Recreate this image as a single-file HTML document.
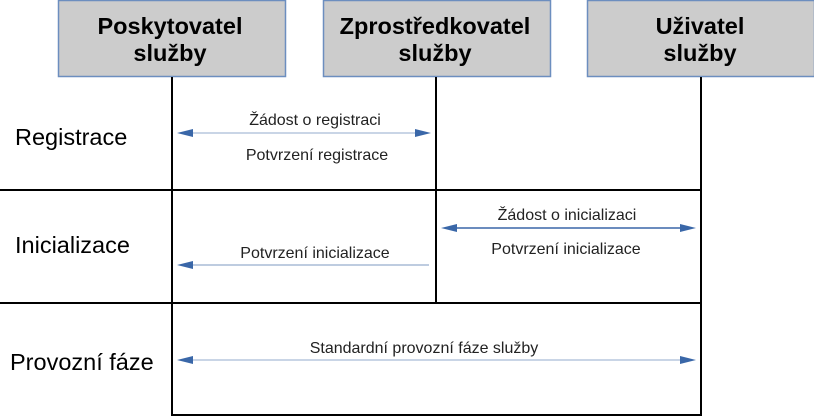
<!DOCTYPE html>
<html><head><meta charset="utf-8"><style>
body{margin:0;background:#fff}
svg{display:block}
text{font-family:"Liberation Sans",sans-serif}
</style></head><body>
<svg width="814" height="417" viewBox="0 0 814 417">
<g fill="#cccccc" stroke="#6c8ebf" stroke-width="1.5">
<rect x="58.5" y="0.5" width="227" height="76"/>
<rect x="323.5" y="0.5" width="227" height="76"/>
<rect x="587.5" y="0.5" width="227" height="76"/>
</g>
<g font-weight="bold" font-size="23.5" text-anchor="middle" fill="#000">
<text x="170" y="34">Poskytovatel</text><text x="170" y="61">služby</text>
<text x="435" y="34">Zprostředkovatel</text><text x="435" y="61">služby</text>
<text x="700" y="34">Uživatel</text><text x="700" y="61">služby</text>
</g>
<g stroke="#000" stroke-width="2" fill="none">
<line x1="172" y1="77" x2="172" y2="416"/>
<line x1="436" y1="77" x2="436" y2="303"/>
<line x1="701" y1="77" x2="701" y2="416"/>
<line x1="0" y1="190" x2="701" y2="190"/>
<line x1="0" y1="303" x2="701" y2="303"/>
<line x1="172" y1="415" x2="701" y2="415"/>
</g>
<g font-size="23.5" fill="#000">
<text x="15" y="145">Registrace</text>
<text x="15" y="253">Inicializace</text>
<text x="10" y="370">Provozní fáze</text>
</g>
<g font-size="16" fill="#222" text-anchor="middle">
<text x="315" y="125">Žádost o registraci</text>
<text x="317" y="160">Potvrzení registrace</text>
<text x="567" y="220">Žádost o inicializaci</text>
<text x="566" y="254">Potvrzení inicializace</text>
<text x="315" y="258">Potvrzení inicializace</text>
<text x="424" y="353">Standardní provozní fáze služby</text>
</g>
<g stroke-width="2" fill="none">
<line x1="185" y1="133" x2="420" y2="133" stroke="#c9d5e6"/>
<line x1="452" y1="228" x2="684" y2="228" stroke="#3a67a8" stroke-width="1.5"/>
<line x1="188" y1="265" x2="429" y2="265" stroke="#a9bcd6" stroke-width="1.5"/>
<line x1="185" y1="360" x2="684" y2="360" stroke="#c9d5e6"/>
</g>
<g fill="#3a67a8">
<polygon points="177,133 193,129 193,137"/>
<polygon points="431,133 415,129 415,137"/>
<polygon points="441,228 457,224 457,232"/>
<polygon points="696,228 680,224 680,232"/>
<polygon points="177,265 193,261 193,269"/>
<polygon points="177,360 193,356 193,364"/>
<polygon points="696,360 680,356 680,364"/>
</g>
</svg>
</body></html>
